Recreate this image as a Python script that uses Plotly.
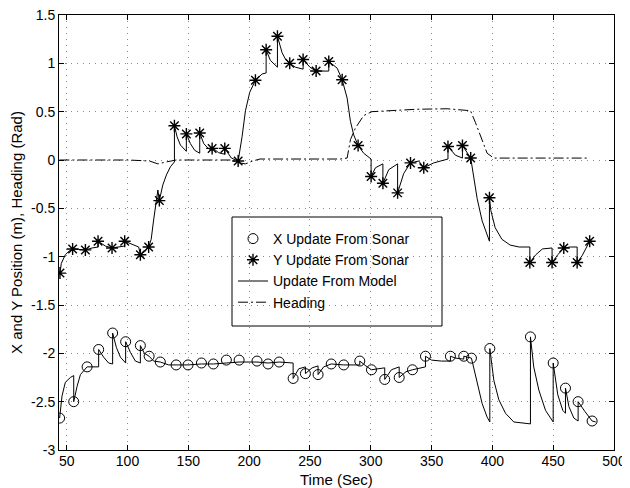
import plotly.graph_objects as go

# ---- Y position: sonar updates (asterisks) ----
ys_t = [44.5, 54.9, 65.4, 75.8, 87.3, 97.7, 110.6, 117.4, 126.2, 138.6, 148.4, 159.4, 169.6,
        180.0, 191.0, 205.2, 214.0, 223.3, 233.4, 244.4, 255.1, 265.5, 276.5, 289.6, 300.3,
        310.0, 322.1, 332.7, 343.6, 363.5, 375.4, 382.2, 397.6, 430.8, 449.1, 458.7, 469.7, 480.0]
ys_v = [-1.17, -0.92, -0.93, -0.84, -0.91, -0.84, -0.98, -0.90, -0.42, 0.355, 0.27, 0.28, 0.12,
        0.12, -0.01, 0.825, 1.14, 1.28, 1.00, 1.04, 0.92, 1.02, 0.83, 0.15, -0.17,
        -0.24, -0.34, -0.03, -0.08, 0.14, 0.15, 0.02, -0.39, -1.06, -1.06, -0.91, -1.06, -0.84]

# ---- Y position: model line (hand-read) ----
ym_t = [44.5, 45.6, 48.9, 52.2, 54.9, 60.0, 65.4, 70.9, 75.8, 75.8, 81.8, 87.3, 92.8, 97.7, 97.7,
        103.8, 109.2, 110.6, 114.0, 117.4, 119.5, 121.5, 123.5, 125.0, 126.2, 129.0, 132.0, 135.3,
        138.6, 138.6, 140.8, 143.5, 148.4, 148.4, 151.7, 155.3, 159.4, 159.4, 162.7, 166.3, 169.6,
        169.6, 175.0, 180.0, 180.0, 185.4, 191.0, 194.2, 197.0, 200.5, 205.2, 210.7, 214.0, 214.0,
        217.5, 223.3, 223.3, 227.1, 230.0, 233.4, 238.0, 244.4, 244.4, 250.0, 255.1, 260.0, 265.5,
        265.5, 272.4, 276.5, 280.6, 283.3, 286.0, 289.6, 294.2, 300.3, 300.3, 303.9, 310.0, 310.0,
        314.8, 322.1, 322.1, 327.1, 332.7, 339.5, 343.6, 351.8, 363.5, 363.5, 369.6, 375.4, 375.4,
        382.2, 384.7, 387.5, 391.6, 395.7, 397.6, 397.6, 398.7, 402.3, 407.8, 414.6, 422.0, 430.8,
        430.8, 435.7, 441.2, 449.1, 449.1, 453.8, 458.7, 464.0, 469.7, 469.7, 473.8, 480.0]
ym_v = [-1.17, -1.07, -0.98, -0.94, -0.92, -0.925, -0.93, -0.91, -0.90, -0.84, -0.89, -0.91, -0.90,
        -0.89, -0.84, -0.87, -0.90, -0.98, -0.95, -0.90, -0.82, -0.62, -0.42, -0.31, -0.42, -0.26,
        -0.155, -0.07, -0.02, 0.355, 0.24, 0.155, 0.09, 0.27, 0.17, 0.10, 0.07, 0.28, 0.17, 0.12,
        0.10, 0.13, 0.075, 0.06, 0.12, 0.02, -0.01, 0.24, 0.51, 0.70, 0.825, 0.89, 0.90, 1.14,
        1.03, 0.96, 1.28, 1.11, 1.04, 1.00, 0.96, 0.94, 1.04, 0.96, 0.92, 0.92, 0.92,
        1.02, 0.95, 0.83, 0.64, 0.40, 0.26, 0.15, 0.07, 0.01, -0.17, -0.08, -0.04, -0.24,
        -0.10, -0.04, -0.34, -0.14, -0.03, -0.01, -0.08, -0.03, 0.01, 0.14, 0.05, 0.02, 0.15,
        0.02, -0.17, -0.40, -0.63, -0.78, -0.84, -0.39, -0.52, -0.70, -0.82, -0.88, -0.90, -0.90,
        -1.06, -0.98, -0.92, -0.91, -1.06, -0.98, -0.91, -0.90, -0.90, -1.06, -0.99, -0.84]

# ---- X position: sonar updates (circles) ----
xs_t = [44.2, 55.8, 66.8, 76.3, 87.8, 98.5, 110.6, 117.8, 127.0, 140.0, 149.8, 160.8, 170.6,
        181.3, 191.8, 206.5, 215.6, 224.7, 236.2, 246.3, 256.7, 267.5, 277.8, 291.0, 300.6,
        311.5, 323.4, 334.3, 345.0, 365.5, 376.5, 382.8, 397.9, 431.3, 450.0, 460.1, 470.5, 482.0]
xs_v = [-2.67, -2.50, -2.14, -1.96, -1.79, -1.88, -1.92, -2.03, -2.09, -2.12, -2.12, -2.10, -2.11,
        -2.07, -2.07, -2.08, -2.11, -2.09, -2.26, -2.21, -2.22, -2.11, -2.12, -2.08, -2.17,
        -2.27, -2.25, -2.17, -2.03, -2.03, -2.03, -2.05, -1.95, -1.83, -2.10, -2.36, -2.50, -2.70]

# ---- X position: model line (hand-read) ----
xm_t = [44.2, 46.2, 48.9, 53.0, 55.8, 55.8, 58.6, 61.3, 66.8, 76.3, 76.3, 80.4, 84.5, 87.8, 87.8,
        90.9, 94.2, 98.5, 98.5, 102.4, 106.5, 110.6, 110.6, 113.9, 117.8, 121.5, 127.0, 133.9,
        140.0, 149.8, 160.8, 170.6, 181.3, 191.8, 206.5, 215.6, 224.7, 234.0, 236.2, 236.2, 240.8,
        246.3, 246.3, 251.8, 256.7, 256.7, 261.3, 267.5, 277.8, 291.0, 291.0, 296.0, 300.6, 311.5,
        311.5, 317.0, 323.4, 323.4, 329.0, 334.3, 345.0, 345.0, 350.0, 358.0, 365.5, 365.5, 370.0,
        376.5, 376.5, 382.8, 387.5, 391.6, 395.7, 397.9, 397.9, 401.2, 405.3, 410.8, 417.6, 431.3,
        431.3, 434.0, 438.2, 443.7, 450.0, 450.0, 453.8, 457.9, 460.1, 460.1, 462.9, 467.0, 470.5,
        470.5, 476.0, 482.0, 485.0]
xm_v = [-2.67, -2.44, -2.30, -2.25, -2.23, -2.50, -2.34, -2.22, -2.14, -2.14, -1.96, -2.04, -2.10,
        -2.11, -1.79, -1.94, -2.04, -2.10, -1.88, -1.99, -2.08, -2.10, -1.92, -2.00, -2.03, -2.08,
        -2.09, -2.12, -2.12, -2.12, -2.11, -2.11, -2.10, -2.09, -2.09, -2.10, -2.09, -2.10, -2.10,
        -2.26, -2.16, -2.14, -2.21, -2.15, -2.13, -2.22, -2.14, -2.11, -2.12, -2.12, -2.08, -2.13,
        -2.17, -2.15, -2.27, -2.17, -2.14, -2.25, -2.19, -2.17, -2.14, -2.03, -2.07, -2.08, -2.08,
        -2.03, -2.05, -2.06, -2.03, -2.05, -2.31, -2.52, -2.66, -2.71, -1.95, -2.28, -2.48, -2.62,
        -2.71, -2.73, -1.83, -2.14, -2.38, -2.59, -2.71, -2.10, -2.43, -2.59, -2.62, -2.36, -2.55,
        -2.67, -2.70, -2.50, -2.60, -2.70, -2.71]

# ---- Heading ----
hd_t = [44, 100, 118, 125, 132, 140, 185, 192, 197, 203, 209, 240, 275, 280.6, 283.3, 287.4,
        294.2, 301, 324.4, 338, 362.8, 382, 386, 390.2, 395.7, 401.2, 440, 480]
hd_v = [0.0, 0.0, -0.01, -0.04, -0.02, 0.0, 0.0, -0.03, -0.04, -0.01, 0.01, 0.01, 0.01, 0.02,
        0.21, 0.33, 0.46, 0.50, 0.52, 0.525, 0.53, 0.51, 0.39, 0.25, 0.07, 0.02, 0.02, 0.02]

x_ticks = [50, 100, 150, 200, 250, 300, 350, 400, 450, 500]
y_ticks = [-3, -2.5, -2, -1.5, -1, -0.5, 0, 0.5, 1, 1.5]
y_tick_text = ["-3", "-2.5", "-2", "-1.5", "-1", "-0.5", "0", "0.5", "1", "1.5"]

FONT = "Liberation Sans, Arial, Helvetica, sans-serif"

fig = go.Figure()
fig.add_trace(go.Scatter(x=xs_t, y=xs_v, mode="markers", name="X Update From Sonar",
                         marker=dict(symbol="circle-open", size=10, color="black",
                                     line=dict(color="black", width=1))))
fig.add_trace(go.Scatter(x=ys_t, y=ys_v, mode="markers", name="Y Update From Sonar",
                         marker=dict(symbol="asterisk-open", size=10, color="black",
                                     line=dict(color="black", width=1.4))))
fig.add_trace(go.Scatter(x=xm_t, y=xm_v, mode="lines", name="Update From Model",
                         legendgroup="model",
                         line=dict(color="black", width=1)))
fig.add_trace(go.Scatter(x=ym_t, y=ym_v, mode="lines", name="Update From Model",
                         legendgroup="model", showlegend=False,
                         line=dict(color="black", width=1)))
fig.add_trace(go.Scatter(x=hd_t, y=hd_v, mode="lines", name="Heading",
                         line=dict(color="black", width=1, dash="10px,3px,2px,3px")))

axis_common = dict(showline=True, linecolor="black", linewidth=1, mirror="ticks",
                   ticks="inside", ticklen=5, tickcolor="black", showgrid=True,
                   gridcolor="#8a8a8a", griddash="1px,5px", gridwidth=1, zeroline=False,
                   automargin=False, ticklabeloverflow="allow",
                   tickfont=dict(family=FONT, size=14, color="black"))

# The page body adds an 8px offset, so the figure is sized/margined to compensate.
OFF = 8
plot_l, plot_r, plot_t, plot_b = 59, 614, 15, 450   # target plot box in window pixels
W, H = 630 - OFF, 488 - OFF

def px_x(p):
    return (p - plot_l) / (plot_r - plot_l)
def px_y(p):
    return (plot_b - p) / (plot_b - plot_t)

# Legend frame
fig.add_shape(type="rect", xref="paper", yref="paper",
              x0=px_x(232), x1=px_x(442), y0=px_y(326), y1=px_y(217),
              line=dict(color="black", width=1), fillcolor="white", layer="below")

# X axis title as an annotation (placed close to the tick labels, as in the reference)
fig.add_annotation(text="Time (Sec)", xref="paper", yref="paper", x=0.5, y=px_y(479),
                   xanchor="center", yanchor="middle", showarrow=False,
                   font=dict(family=FONT, size=15, color="black"))

fig.update_layout(
    width=W, height=H,
    margin=dict(l=plot_l - OFF, r=630 - plot_r, t=plot_t - OFF, b=488 - plot_b),
    paper_bgcolor="white", plot_bgcolor="white",
    font=dict(family=FONT, size=15, color="black"),
    xaxis=dict(range=[43.7, 500], tickvals=x_ticks, ticklabelstandoff=-2,
               **axis_common),
    yaxis=dict(range=[-3, 1.5], tickvals=y_ticks, ticktext=y_tick_text,
               title=dict(text="X and Y Position (m), Heading (Rad)", standoff=4,
                          font=dict(family=FONT, size=15)),
               **axis_common),
    legend=dict(x=px_x(233), y=px_y(223), xanchor="left", yanchor="top",
                borderwidth=0, bgcolor="rgba(0,0,0,0)",
                font=dict(family=FONT, size=14, color="black"),
                tracegroupgap=0, itemwidth=30),
    showlegend=True,
)

fig.write_html("out.html")
